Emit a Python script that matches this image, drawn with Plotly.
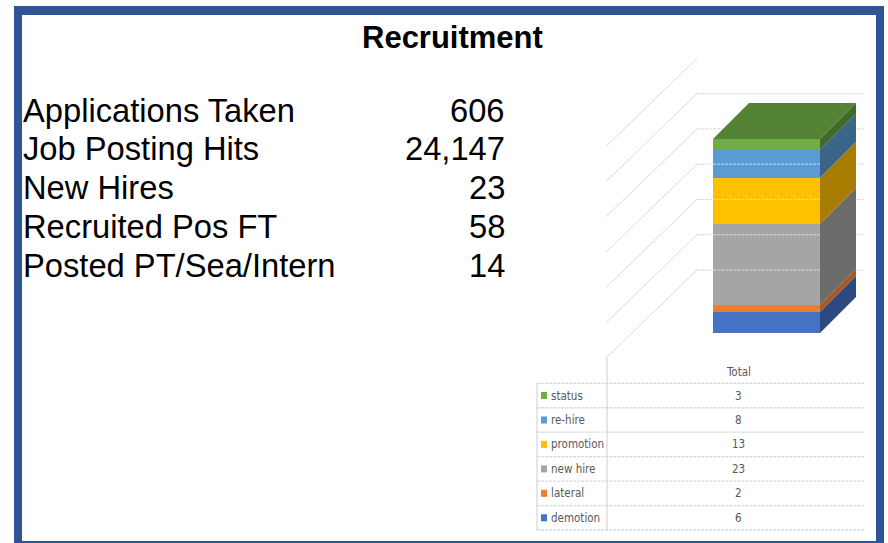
import plotly.graph_objects as go

# ---------------- data ----------------
title_text = "Recruitment"
stat_labels = ["Applications Taken", "Job Posting Hits", "New Hires",
               "Recruited Pos FT", "Posted PT/Sea/Intern"]
stat_values = [606, 24147, 23, 58, 14]

series_name = "Total"
categories = ["demotion", "lateral", "new hire", "promotion", "re-hire", "status"]
values = [6, 2, 23, 13, 8, 3]
front_colors = ["#4472C4", "#ED7D31", "#A5A5A5", "#FFC000", "#5B9BD5", "#70AD47"]
side_colors = ["#2C4A80", "#A85822", "#6B6B6B", "#A67D00", "#3A6589", "#3F6A2A"]
top_color = "#548235"
grid_values = [0, 10, 20, 30, 40, 50, 60]

# ---------------- layout helpers ----------------
W, H = 888, 543
PX_X = 107.0            # px per x unit (bar width = 1)
PX_Y = 194.0 / 55.0     # px per value unit
X_CENTER_PX = 766.5
Y_ZERO_PX = 333.0
x_range = [-X_CENTER_PX / PX_X, (W - X_CENTER_PX) / PX_X]
y_range = [-(H - Y_ZERO_PX) / PX_Y, -(H - Y_ZERO_PX) / PX_Y + H / PX_Y]


def px(x):
    return x / W


def py(y):
    return 1 - y / H


depth_dx = 36 / PX_X
depth_dy = 36 / PX_Y
wall_back_dy = 63 / PX_Y
wall_left = (697 - X_CENTER_PX) / PX_X
wall_right = (865 - X_CENTER_PX) / PX_X
wall_front_x = (606 - X_CENTER_PX) / PX_X
wall_front_dy = -25 / PX_Y

fig = go.Figure()

grid_col = "#D9D9D9"
# back wall + side wall gridlines
for g in grid_values:
    yb = g + wall_back_dy
    if g < max(grid_values):
        fig.add_trace(go.Scatter(x=[wall_left, wall_right], y=[yb, yb], mode="lines",
                                 line=dict(color=grid_col, width=1, dash="3px,1px"),
                                 hoverinfo="skip", showlegend=False))
    fig.add_trace(go.Scatter(x=[wall_front_x, wall_left], y=[g + wall_front_dy, yb], mode="lines",
                             line=dict(color=grid_col, width=1),
                             hoverinfo="skip", showlegend=False))

# stacked front faces
for cat, v, c in zip(categories, values, front_colors):
    fig.add_trace(go.Bar(x=[0], y=[v], width=[1], name=cat, marker=dict(color=c, line=dict(width=0)),
                         showlegend=False, hoverinfo="name+y"))

# side faces
base = 0
for v, c in zip(values, side_colors):
    b, t = base, base + v
    fig.add_trace(go.Scatter(
        x=[0.5, 0.5 + depth_dx, 0.5 + depth_dx, 0.5, 0.5],
        y=[b, b + depth_dy, t + depth_dy, t, b],
        mode="lines", fill="toself", fillcolor=c, line=dict(width=0, color=c),
        hoverinfo="skip", showlegend=False))
    base = t
total = base
fig.add_trace(go.Scatter(
    x=[-0.5, 0.5, 0.5 + depth_dx, -0.5 + depth_dx, -0.5],
    y=[total, total, total + depth_dy, total + depth_dy, total],
    mode="lines", fill="toself", fillcolor=top_color, line=dict(width=0, color=top_color),
    hoverinfo="skip", showlegend=False))

shapes = []
annotations = []

# ---------------- blue frame ----------------
frame = "#2F5597"
shapes += [
    dict(type="rect", xref="paper", yref="paper", x0=px(14), x1=px(22), y0=py(543), y1=py(6),
         fillcolor=frame, line=dict(width=0), layer="above"),
    dict(type="rect", xref="paper", yref="paper", x0=px(14), x1=px(884), y0=py(15), y1=py(6),
         fillcolor=frame, line=dict(width=0), layer="above"),
    dict(type="rect", xref="paper", yref="paper", x0=px(876), x1=px(884), y0=py(543), y1=py(6),
         fillcolor=frame, line=dict(width=0), layer="above"),
    dict(type="rect", xref="paper", yref="paper", x0=px(14), x1=px(884), y0=py(543), y1=py(541),
         fillcolor=frame, line=dict(width=0), layer="above"),
]

# ---------------- title & stats ----------------
annotations.append(dict(text="<b>" + title_text + "</b>", xref="paper", yref="paper",
                        x=px(452), y=py(37), xanchor="center", yanchor="middle", showarrow=False,
                        font=dict(family="Arial, Liberation Sans", size=31, color="#000000")))
for i, (lab, val) in enumerate(zip(stat_labels, stat_values)):
    yc = 110 + i * 38.8
    annotations.append(dict(text=lab, xref="paper", yref="paper", x=px(21), y=py(yc),
                            xanchor="left", yanchor="middle", showarrow=False,
                            font=dict(family="Arial, Liberation Sans", size=32.7, color="#000000")))
    annotations.append(dict(text=f"{val:,}", xref="paper", yref="paper", x=px(507), y=py(yc),
                            xanchor="right", yanchor="middle", showarrow=False,
                            font=dict(family="Arial, Liberation Sans", size=32.7, color="#000000")))

# ---------------- data table ----------------
tbl_font = dict(family="DejaVu Sans Condensed, Liberation Sans Narrow, Arial Narrow, sans-serif",
                size=11.5, color="#595959")
row_top = 383.3
row_h = 24.45
n = len(categories)
tl = 537
tdiv = 607
tr = 865
for i in range(n + 1):
    yl = row_top + i * row_h
    shapes.append(dict(type="line", xref="paper", yref="paper", x0=px(tl), x1=px(tr),
                       y0=py(yl), y1=py(yl), line=dict(color=grid_col, width=1.3, dash="3px,1px")))
shapes.append(dict(type="line", xref="paper", yref="paper", x0=px(tl), x1=px(tl),
                   y0=py(row_top), y1=py(row_top + n * row_h), line=dict(color=grid_col, width=1.3)))
shapes.append(dict(type="line", xref="paper", yref="paper", x0=px(tdiv), x1=px(tdiv),
                   y0=py(358), y1=py(row_top + n * row_h), line=dict(color=grid_col, width=1.3)))
annotations.append(dict(text=series_name, xref="paper", yref="paper", x=px(738), y=py(372),
                        xanchor="center", yanchor="middle", showarrow=False, font=tbl_font))
for i, idx in enumerate(reversed(range(n))):
    yc = row_top + (i + 0.5) * row_h
    shapes.append(dict(type="rect", xref="paper", yref="paper", x0=px(541), x1=px(547),
                       y0=py(yc + 3.5), y1=py(yc - 3.5), fillcolor=front_colors[idx], line=dict(width=0)))
    annotations.append(dict(text=categories[idx], xref="paper", yref="paper", x=px(549), y=py(yc),
                            xanchor="left", yanchor="middle", showarrow=False, font=tbl_font))
    annotations.append(dict(text=str(values[idx]), xref="paper", yref="paper", x=px(738), y=py(yc),
                            xanchor="center", yanchor="middle", showarrow=False, font=tbl_font))

fig.update_layout(
    width=W, height=H, margin=dict(l=0, r=0, t=0, b=0),
    paper_bgcolor="white", plot_bgcolor="rgba(0,0,0,0)",
    barmode="stack", bargap=0,
    xaxis=dict(range=x_range, visible=False, fixedrange=True),
    yaxis=dict(range=y_range, visible=False, fixedrange=True),
    shapes=shapes, annotations=annotations, showlegend=False,
)

fig.write_html("out.html", config={"displayModeBar": False},
               post_script="document.body.style.margin='0';document.body.style.overflow='hidden';")
